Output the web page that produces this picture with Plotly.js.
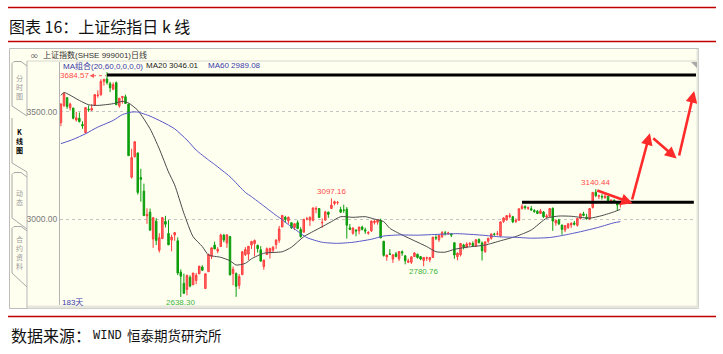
<!DOCTYPE html>
<html><head><meta charset="utf-8">
<script src="https://cdn.plot.ly/plotly-3.0.1.min.js"></script>
<style>html,body{margin:0;padding:0;background:#fff;}#chart{width:723px;height:354px;}</style>
</head><body><div id="chart"></div>
<script>
// ---------------- DATA ----------------
const open = [3450,3530,3566,3519,3518,3462,3470,3441,3403,3512,3508,3530,3575,3579,3642,3653,3631,3605,3636,3528,3566,3570,
3536,3196,3291,3309,3194,3131,3016,3033,2908,2991,2856,2910,2990,2934,2903,2927,2900,2754,2702,2673,
2730,2695,2715,2746,2778,2678,2756,2827,2880,2852,2873,2926,2889,2920,2748,2748,
2692,2742,2835,2838,2880,2887,2879,2858,2780,2836,2846,2856,2882,2902,2964,3009,2993,2984,2962,2984,2952,2940,3002,
2996,2995,3047,3050,2983,2996,3033,3050,3073,3077,3045,3043,3047,2960,2935,2950,2946,2964,2951,2935,
2946,2985,2986,2995,2898,2825,2839,2815,2839,2816,2849,2830,2800,2800,2826,2837,2826,2808,2819,2812,2822,
2915,2905,2919,2937,2932,2932,2891,2826,2835,2880,2870,2883,2887,2875,2906,2890,2850,2898,2912,2931,
2931,2922,2990,2997,3012,3012,2990,2995,3050,3060,3051,3049,3041,3037,3027,3034,3011,3014,3051,2983,2996,
2973,2950,2961,2974,2982,2972,3004,3025,3010,3002,3055,3126,3107,3106,3100,3106,3081,3088,3078,3068];
const high = [3538,3589,3568,3543,3518,3500,3497,3456,3521,3530,3535,3583,3600,3652,3654,3684.57,3640,3637,3641,3566,3573,3580,
3538,3328,3362,3309,3235,3166,3051,3050,3011,3005,2935,3009,3016,2996,2928,2939,2916,2767,2747,2743,
2739,2750,2750,2782,2786,2747,2840,2868,2896,2870,2933,2932,2928,2921,2780,2752,
2745,2850,2870,2876,2899,2906,2881,2875,2812,2869,2868,2875,2905,2969,3019,3016,3013,2984,2981,2995,2963,3001,3011,
3013,3054,3060,3051,3004,3039,3036,3097.16,3087,3085,3058,3068,3057,2978,2963,2952,2965,2970,2961,2945,
2993,2998,3000,3003,2898,2836,2861,2836,2848,2850,2855,2832,2817,2826,2848,2840,2829,2823,2826,2823,2917,
2926,2925,2945,2946,2942,2935,2891,2846,2890,2886,2893,2893,2897,2905,2911,2897,2896,2912,2932,2937,
2945,2989,3010,3018,3029,3016,3004,3050,3070,3064,3059,3062,3047,3043,3048,3038,3024,3050,3055,2999,3002,
2975,2972,2981,2985,2992,3004,3026,3035,3025,3050,3125,3140.44,3115,3117,3116,3108,3093,3093,3080,3081];
const low = [3433,3522,3514,3506,3465,3455,3450,3421,3399,3500,3505,3527,3566,3576,3622,3627,3592,3601,3533,3519,3538,3538,
3295,3189,3288,3115,3082,3016,2979,2949,2867,2880,2845,2910,2962,2880,2851,2900,2740,2638.30,2652,2646,
2683,2694,2698,2745,2760,2675,2756,2815,2861,2842,2873,2893,2867,2740,2693,2639,
2676,2742,2829,2810,2862,2827,2845,2805,2765,2834,2817,2843,2862,2890,2964,2983,2979,2955,2950,2954,2914,2940,2995,
2969,2990,3028,3007,2960,2995,3007,3048,3065,3068,3030,3030,2910,2950,2928,2921,2930,2948,2932,2928,
2941,2976,2975,2913,2826,2807,2836,2797,2823,2806,2830,2790,2796,2792,2826,2817,2810,2780.76,2806,2800,2820,
2903,2895,2913,2924,2928,2917,2816,2809,2827,2860,2865,2876,2872,2872,2887,2808,2843,2888,2905,2923,
2925,2920,2983,2994,3005,2982,2983,2995,3045,3045,3043,3040,3030,3024,3026,3006,3005,3011,2946,2970,2973,
2928,2940,2955,2960,2971,2966,2999,3014,2998,2996,3050,3103,3094,3092,3096,3084,3073,3076,3040,3055];
const close = [3537,3584,3525,3536,3470,3472,3455,3435,3520,3510,3516,3580,3578,3642,3651,3636,3612,3627,3533,3563,3572,3539,
3296,3287,3361,3125,3186,3017,3022,2949,3007,2901,2914,3008,2977,2881,2917,2938,2750,2735,2656,2738,
2689,2750,2739,2782,2763,2746,2836,2867,2862,2860,2927,2903,2928,2741,2767,2688,
2733,2849,2859,2874,2897,2901,2863,2805,2810,2863,2864,2870,2904,2955,3018,2999,3009,2960,2979,2957,2920,3000,3003,
3009,3053,3050,3008,2985,3034,3023,3066,3082,3078,3033,3042,2972,2953,2959,2946,2964,2953,2945,2938,
2992,2991,2998,2913,2832,2833,2837,2835,2827,2850,2843,2807,2806,2825,2843,2822,2815,2822,2821,2822,2917,
2913,2925,2938,2934,2936,2927,2834,2842,2887,2872,2885,2888,2878,2905,2892,2854,2895,2912,2932,2930,
2932,2988,3006,3017,3017,2988,2994,3049,3060,3054,3054,3043,3036,3027,3039,3012,3015,3050,2992,2995,2979,
2953,2971,2979,2982,2977,3004,3025,3018,3002,3050,3125,3110,3110,3104,3108,3085,3089,3085,3066,3070];

const ma20Day = [0,1,6,9,12,17,20,22,25,29,32,35,37,40,43,46,48,52,55,57,60,62,66,72,75,79,84,88,91,95,99,102,105,107,111,115,119,122,125,128,132,138,143,148,153,158,162,166,169,172,176,180,182];
const ma20Val = [3577,3590,3553,3533,3530,3538,3549,3541,3507,3421,3328,3220,3160,3028,2919,2873,2834,2823,2807,2787,2795,2816,2842,2849,2870,2919,2958,2989,3012,3009,3012,3001,2989,2958,2927,2900,2873,2849,2847,2860,2870,2880,2900,2920,2950,3005,3015,3014,3009,3005,3017,3035,3046];
const ma60Day = [0,4,8,12,17,20,23,25,29,33,37,41,44,48,50,55,60,62,66,70,72,74,76,80,85,90,95,101,105,110,116,123,129,137,143,148,153,159,164,169,175,180,182];
const ma60Val = [3352,3372,3398,3429,3460,3487,3499,3499,3480,3453,3421,3369,3322,3276,3255,3198,3125,3105,3062,3018,2998,2975,2955,2915,2893,2888,2893,2907,2922,2927,2926,2930,2933,2926,2918,2916,2912,2915,2927,2942,2963,2984,2989];
const maPeriods = [20, 60];
const maLast = [3046.01, 2989.08];
const dayCount = 183;

// marked extremes
const extremeDay = [15, 88, 174, 118, 39];
const extremeVal = [3684.57, 3097.16, 3140.44, 2780.76, 2638.30];
const extremeIsHigh = [true, true, true, false, false];

// drawn resistance levels
const levelVal = [3671, 3079];
const levelFrom = [15, 150];
const levelTo = [207, 205.9];

// drawn red forecast arrows
const arrowTailDay = [174, 185.7, 192.2, 201];
const arrowTailVal = [3136, 3085, 3383, 3290];
const arrowHeadDay = [186, 191.6, 200.3, 206];
const arrowHeadVal = [3074, 3400, 3283, 3597];

// side tabs
const tabLabels = ['分时图', 'K线图', '动态', '合约资料'];

const dayIndex = open.map((_, i) => i);

// ---------------- LAYOUT helpers ----------------
const L=60,R=27,T=62,B=49,FW=723,FH=354;
const W=FW-L-R, PH=FH-T-B;
const PX=x=>(x-L)/W, PY=y=>(FH-B-y)/PH;
const shapes=[], ann=[];
const NONE='rgba(0,0,0,0)';
function rectPx(x0,y0,x1,y1,fill,lc,lw){shapes.push({type:'rect',xref:'paper',yref:'paper',x0:PX(x0),x1:PX(x1),y0:PY(y0),y1:PY(y1),fillcolor:fill,line:{color:lc||NONE,width:lw||0},layer:'below'});}
function linePx(x0,y0,x1,y1,color,width,dash,layer){shapes.push({type:'line',xref:'paper',yref:'paper',x0:PX(x0),x1:PX(x1),y0:PY(y0),y1:PY(y1),line:{color:color,width:width,dash:dash||'solid'},layer:layer||'below'});}
function pathPx(pts,closed,fill,color,width,layer){const d='M'+pts.map(p=>PX(p[0]).toFixed(5)+','+PY(p[1]).toFixed(5)).join('L')+(closed?'Z':'');shapes.push({type:'path',xref:'paper',yref:'paper',path:d,fillcolor:fill||NONE,line:{color:color||NONE,width:width||0},layer:layer||'below'});}
function txt(x,y,text,size,color,family,xanchor,extra){ann.push(Object.assign({xref:'paper',yref:'paper',x:PX(x),y:PY(y),text:text,showarrow:false,xanchor:xanchor||'left',yanchor:'middle',borderpad:0,font:{size:size,color:color,family:family}},extra||{}));}

const CJK='Noto Sans CJK SC';
const LAT='Liberation Sans, Noto Sans CJK SC';

// page rules
linePx(8,7.5,716,7.5,'#C00000',1.3);
linePx(8,41.5,716,41.5,'#C00000',1.3);
linePx(8,316.5,716,316.5,'#C00000',1.3);

// panel frame
rectPx(9.5,48.5,698.5,308.5,'#FFFFF0','#BDBDBD',1);
linePx(27,61,698.5,61,'#D6D6CC',1);
rectPx(27,305.5,698.5,308.5,'#E6E6DC');
rectPx(696.5,49,698.5,308.5,'#E6E6DC');
pathPx([[691,62],[697,62],[697,68]],true,'#A8A8A8');
linePx(27,61,27,116,'#B8B8B8',1);
linePx(27,172,27,308.5,'#B8B8B8',1);
// tabs
pathPx([[27,66],[21,61.5],[14,61.5],[12,63.5],[12,106],[27,116]],false,null,'#A8A8A8',1);
pathPx([[12,118],[12,163],[27,172]],false,null,'#A8A8A8',1);
pathPx([[27,177],[21,172.5],[14,172.5],[12,174.5],[12,218],[27,229]],false,null,'#A8A8A8',1);
pathPx([[27,231],[21,226.5],[14,226.5],[12,228.5],[12,273],[27,287]],false,null,'#A8A8A8',1);

// titles
txt(8,26,'图表 16：上证综指日 k 线',16,'#111',CJK);
txt(9.5,335,'数据来源：',16,'#111',CJK);
txt(92,335.5,'WIND',12,'#111','Liberation Mono');
txt(126,335,'恒泰期货研究所',13.5,'#111',CJK);

// header of the panel
txt(29,55,'∞',10,'#666','DejaVu Sans');
txt(42,55,'上证指数(SHSE 999001)日线',8,'#333',LAT);

// tab labels (one vertical text per tab)
const tabCenters = [86.7, 141, 197.5, 252.7];
tabLabels.forEach((t,k)=>{
  const body = t.split('').join('<br>');
  txt(19.5, tabCenters[k], k===1 ? '<b>'+body+'</b>' : body, 7, k===1 ? '#000' : '#9A9A9A', CJK, 'center');
});

// MA legend
txt(61.5,65.5,'MA组合('+maPeriods.join(',')+',0,0,0,0)',8,'#3A3AA8',LAT);
txt(145,65.5,'MA'+maPeriods[0]+' '+maLast[0].toFixed(2),8,'#222',LAT);
txt(206.5,65.5,'MA'+maPeriods[1]+' '+maLast[1].toFixed(2),8,'#3A3AA8',LAT);
txt(61,302,dayCount+'天',8,'#3A3AA8',LAT);

// extreme labels
extremeDay.forEach((d,k)=>{
  const v=extremeVal[k], hi=extremeIsHigh[k];
  const color = hi ? '#FF4A4A' : '#3CB43C';
  if(k===0){
    ann.push({xref:'x',yref:'y',x:d,y:v,text:v.toFixed(2),showarrow:false,xanchor:'right',yanchor:'middle',xshift:-17,yshift:-3.5,borderpad:0,font:{size:8,color:color,family:LAT}});
  } else {
    ann.push({xref:'x',yref:'y',x:d,y:v,text:v.toFixed(2),showarrow:false,xanchor:'center',yanchor:hi?'bottom':'top',yshift:hi?1:0,borderpad:0,font:{size:8,color:color,family:LAT}});
  }
});
// dotted pointer next to the top label
linePx(93,75.7,106,75.7,'#FF5A5A',1,'dot','above');
pathPx([[89.5,75.7],[94,73.5],[94,77.9]],true,'#FF5A5A',null,0,'above');

// resistance levels
levelVal.forEach((v,k)=>shapes.push({type:'line',xref:'x',yref:'y',x0:levelFrom[k],x1:levelTo[k],y0:v,y1:v,line:{color:'#000',width:3},layer:'above'}));

// forecast arrows
arrowHeadDay.forEach((d,k)=>ann.push({xref:'x',yref:'y',axref:'x',ayref:'y',x:d,y:arrowHeadVal[k],ax:arrowTailDay[k],ay:arrowTailVal[k],text:'',showarrow:true,arrowhead:2,arrowsize:0.9,arrowwidth:2.6,arrowcolor:'#FF2A2A',standoff:0}));

// ---------------- TRACES ----------------
const traces=[
 {type:'candlestick',x:dayIndex,open:open,high:high,low:low,close:close,
  increasing:{line:{color:'#FF3C3C',width:1},fillcolor:'#FF7070'},
  decreasing:{line:{color:'#0C9E0C',width:1},fillcolor:'#0C9E0C'},
  whiskerwidth:0,hoverinfo:'skip',showlegend:false},
 {type:'scatter',mode:'lines',x:ma20Day,y:ma20Val,line:{color:'#4A4A4A',width:1,shape:'spline',smoothing:0.6},hoverinfo:'skip',showlegend:false},
 {type:'scatter',mode:'lines',x:ma60Day,y:ma60Val,line:{color:'#5656C8',width:1,shape:'spline',smoothing:0.6},hoverinfo:'skip',showlegend:false}
];

const layout={
 width:FW,height:FH,margin:{l:L,r:R,t:T,b:B,pad:0},
 paper_bgcolor:'#FFFFFF',plot_bgcolor:NONE,
 font:{family:LAT,size:8,color:'#333'},
 showlegend:false,
 xaxis:{range:[-0.3,206.6],showticklabels:false,showgrid:false,zeroline:false,showline:false,ticks:'',rangeslider:{visible:false},fixedrange:true},
 yaxis:{range:[2601,3732],tickvals:[3000,3500],ticktext:['3000.00','3500.00'],showgrid:true,gridcolor:'#C4C4C4',griddash:'dot',gridwidth:1,
        zeroline:false,showline:true,linecolor:'#B4B4B4',linewidth:1,ticks:'',tickfont:{family:'Liberation Sans',size:8.5,color:'#7A7A7A'},fixedrange:true},
 shapes:shapes,annotations:ann
};
Plotly.newPlot('chart',traces,layout,{staticPlot:true,displayModeBar:false});
</script></body></html>
